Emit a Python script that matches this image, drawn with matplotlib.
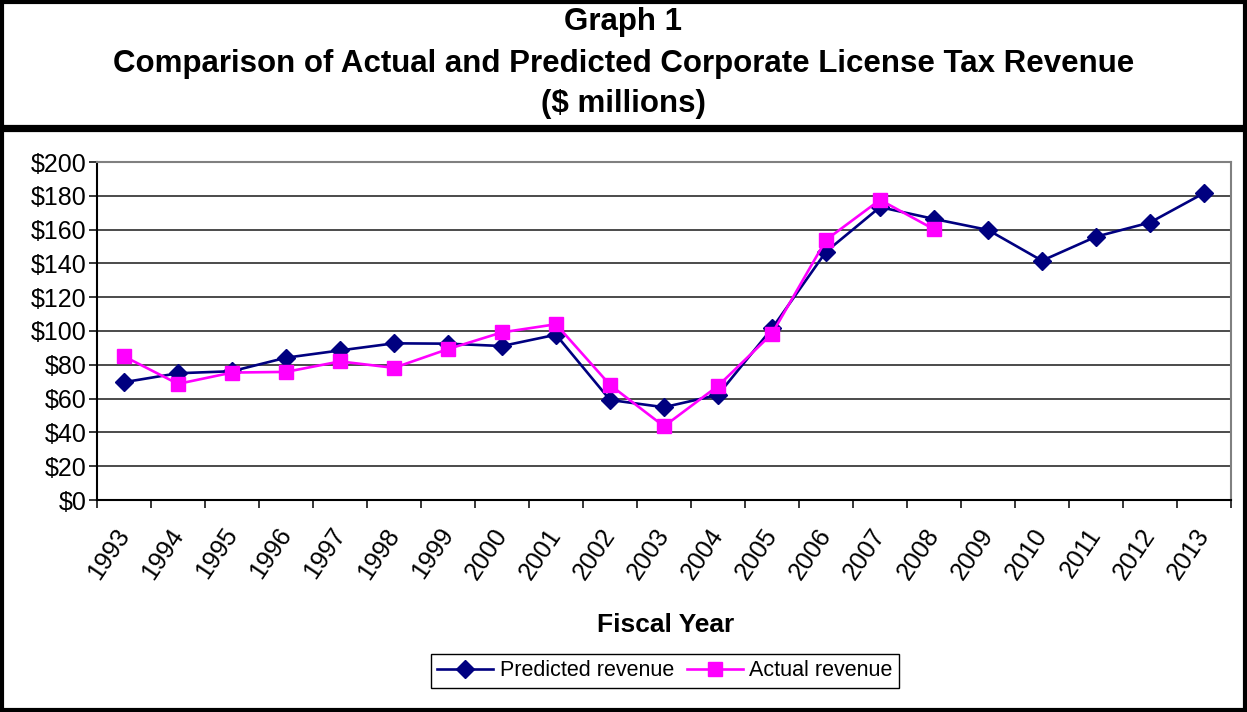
import matplotlib
matplotlib.use("Agg")
import matplotlib.pyplot as plt
from matplotlib.patches import Rectangle
from matplotlib.lines import Line2D

years = [str(y) for y in range(1993, 2014)]
predicted = [69.7, 75.0, 76.2, 84.2, 88.5, 92.7, 92.5, 91.1, 97.8, 59.2, 54.9,
             62.2, 101.5, 146.9, 173.3, 166.3, 159.8, 141.6, 155.8, 164.2, 181.6]
actual = [85.0, 68.7, 75.4, 75.8, 82.0, 78.2, 89.3, 99.2, 104.0, 68.1, 43.6,
          67.5, 98.4, 153.9, 177.6, 160.2]
y_ticks = list(range(0, 201, 20))

plt.rcParams['font.family'] = ['Liberation Sans', 'DejaVu Sans']

W, H = 1247, 712
fig = plt.figure(figsize=(W / 100, H / 100), dpi=100)

def fx(px):
    return px / W

def fy(py):
    return 1 - py / H

# Outer frame and title separator
fig.patches.append(Rectangle((fx(2), fy(709.5)), fx(1243), fy(1.5) - fy(709.5),
                             transform=fig.transFigure, fill=False,
                             edgecolor='black', linewidth=3.0, zorder=10))
fig.add_artist(Line2D([0, 1], [fy(127.5), fy(127.5)], transform=fig.transFigure,
                      color='black', linewidth=5.2))

# Title lines
title_kw = dict(ha='center', va='center', fontsize=22.5, fontweight='bold')
fig.text(0.5, fy(22), "Graph 1", **title_kw)
fig.text(0.5, fy(64), "Comparison of Actual and Predicted Corporate License Tax Revenue",
         **title_kw)
fig.text(0.5, fy(104), "($ millions)", **title_kw)

left, right, top, bottom = 97, 1231, 162, 500
ax = fig.add_axes([fx(left), fy(bottom), fx(right - left), fy(top) - fy(bottom)])

xs = list(range(len(years)))
ax.plot(xs, predicted, color='#000080', linewidth=1.9, marker='D',
        markersize=9.5, markerfacecolor='#000080', markeredgecolor='#000080',
        label='Predicted revenue', zorder=3)
ax.plot(xs[:len(actual)], actual, color='#FF00FF', linewidth=1.9, marker='s',
        markersize=10, markerfacecolor='#FF00FF', markeredgecolor='#FF00FF',
        label='Actual revenue', zorder=4)

ax.set_xlim(-0.5, len(years) - 0.5)
ax.set_ylim(0, 200)

ax.set_yticks(y_ticks)
ax.set_yticklabels([f"${v}" for v in y_ticks], fontsize=18)
ax.yaxis.grid(True, color='#1a1a1a', linewidth=1.1)
ax.set_axisbelow(True)

ax.set_xticks([i - 0.5 for i in range(len(years) + 1)])
ax.set_xticklabels([])
ax.set_xticks(xs, minor=True)
ax.set_xticklabels(years, minor=True, fontsize=18, rotation=56,
                   ha='right', va='center', rotation_mode='anchor')
ax.tick_params(axis='x', which='minor', length=0, pad=22)
ax.tick_params(axis='x', which='major', length=6, width=1.1, direction='out')
ax.tick_params(axis='y', length=6, width=1.1, direction='out', pad=1.5)

for s in ('top', 'right'):
    ax.spines[s].set_color('#808080')
    ax.spines[s].set_linewidth(1.5)
for s in ('left', 'bottom'):
    ax.spines[s].set_color('black')
    ax.spines[s].set_linewidth(1.5)

fig.text(fx(666), fy(625), "Fiscal Year", ha='center', va='center',
         fontsize=19, fontweight='bold')

handles, labels = ax.get_legend_handles_labels()
leg = fig.legend(handles, labels, loc='center', bbox_to_anchor=(fx(665), fy(671)),
                 ncol=2, fontsize=15.5, frameon=True, fancybox=False,
                 edgecolor='black', framealpha=1, handlelength=2.6,
                 columnspacing=0.6, handletextpad=0.3, borderpad=0.3,
                 borderaxespad=0)
leg.get_frame().set_linewidth(1.0)

fig.savefig("out.png", dpi=100)
